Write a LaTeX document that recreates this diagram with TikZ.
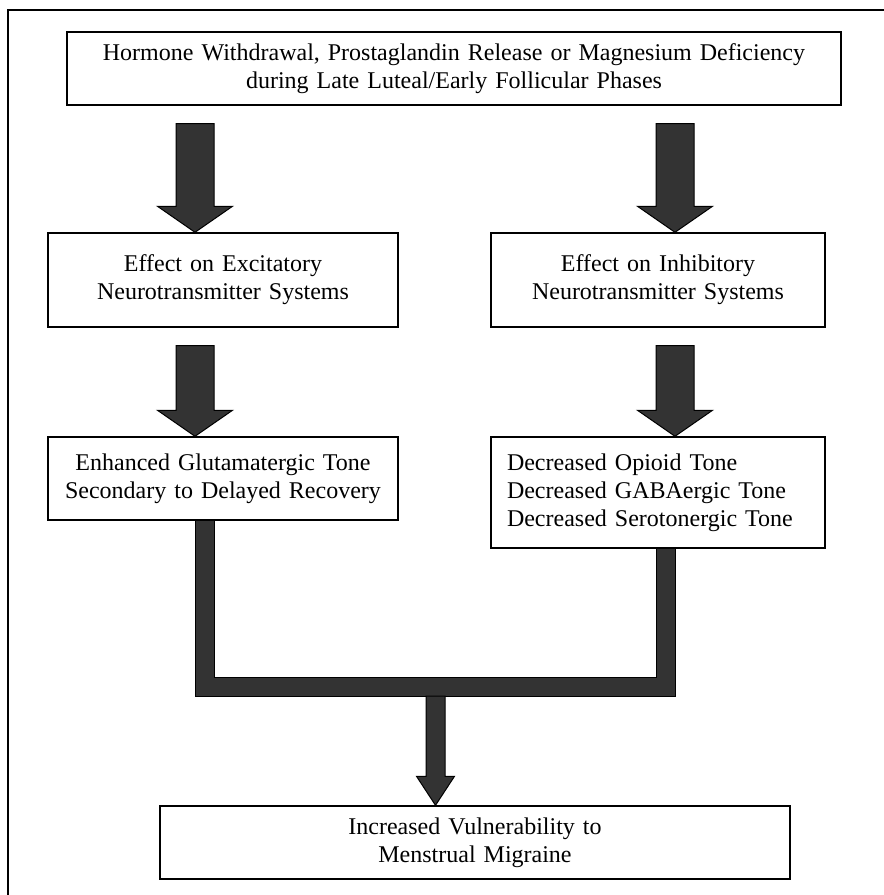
\documentclass[tikz,border=0pt]{standalone}
\usepackage{fontspec}
\setmainfont{Liberation Serif}
\usetikzlibrary{calc}

\tikzset{
  box/.style={draw, fill=white, line width=0.7pt, inner xsep=8pt, inner ysep=0pt,
    align=center, font=\fontsize{12}{14}\selectfont},
  blk/.style={draw=black, fill=black!80, line width=0.5pt},
}
% block arrow: from node, to node, column
\newcommand{\barrow}[3]{%
  \draw[blk] (#2.north -| #3) -- ++(-37.5,-26) -- ++(18.5,0)
    -- ($(#1.south -| #3)+(-19,18)$) -- ++(38,0)
    -- ($(#2.north -| #3)+(19,-26)$) -- ++(18.5,0) -- cycle;}

\begin{document}
\begin{tikzpicture}[x=0.5pt,y=-0.5pt]
\useasboundingbox (0,0) rectangle (884,895);
\draw[line width=1pt] (8,895) -- (8,10) -- (884,10);

\coordinate (lcol) at (195,0);
\coordinate (rcol) at (675,0);
\coordinate (join) at (435.5,696);

\node (top) at (454,68.5) [box,text width=371pt,minimum height=36.5pt] {Hormone Withdrawal, Prostaglandin Release or Magnesium Deficiency\\during Late Luteal/Early Follicular Phases};
\node (exc) at (223,280) [box,text width=159pt,minimum height=47pt] {Effect on Excitatory\\Neurotransmitter Systems};
\node (inh) at (658,280) [box,text width=151pt,minimum height=47pt] {Effect on Inhibitory\\Neurotransmitter Systems};
\node (glu) at (223,478.5) [box,text width=159pt,minimum height=41.5pt] {Enhanced Glutamatergic Tone\\Secondary to Delayed Recovery};
\node (dec) at (658,492.5) [box,text width=151pt,minimum height=55.5pt,align=left] {Decreased Opioid Tone\\Decreased GABAergic Tone\\Decreased Serotonergic Tone};
\node (res) at (475,842.5) [box,text width=299pt,minimum height=36.5pt] {Increased Vulnerability to\\Menstrual Migraine};

\barrow{top}{exc}{lcol}
\barrow{top}{inh}{rcol}
\barrow{exc}{glu}{lcol}
\barrow{inh}{dec}{rcol}

\draw[blk] (glu.south -| lcol) |- (join -| rcol) -- (dec.south -| rcol) -- ++(-19,0)
  |- ($(join -| lcol)+(19,-19)$) -- ($(glu.south -| lcol)+(19,0)$) -- cycle;
\draw[blk] (res.north -| join) -- ++(-19,-29) -- ++(9.5,0) -- ($(join)+(-9.5,0)$)
  -- ++(19,0) -- ($(res.north -| join)+(9.5,-29)$) -- ++(9.5,0) -- cycle;
\end{tikzpicture}
\end{document}
